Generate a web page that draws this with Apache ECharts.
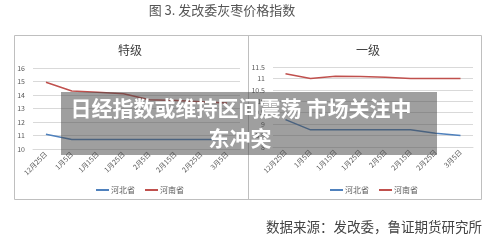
<!DOCTYPE html>
<html>
<head>
<meta charset="utf-8">
<script src="https://cdn.jsdelivr.net/npm/echarts@6/dist/echarts.min.js"></script>
<style>
  html, body { margin: 0; padding: 0; background: #fff; }
  #chart { width: 500px; height: 247px; }
</style>
</head>
<body>
<div id="chart"></div>
<script>
// 横轴日期
const categories = ['12月25日', '1月5日', '1月15日', '1月25日', '2月5日', '2月15日', '2月25日', '3月5日'];
const seriesNames = ['河北省', '河南省'];
// 特级
const topHebei = [11.1, 10.7, 10.7, 10.7, 10.7, 10.7, 10.7, 10.7];
const topHenan = [14.95, 14.3, 14.2, 14.1, 13.65, 13.6, 13.5, 13.4];
// 一级
const firstHebei = [9.2, 8.75, 8.75, 8.75, 8.75, 8.75, 8.6, 8.5];
const firstHenan = [11.2, 11.0, 11.1, 11.08, 11.05, 11.0, 11.0, 11.0];

const FONT = 'Noto Sans CJK SC';
const gridColor = '#d9d9d9';
const labelColor = '#595959';
const blue = '#4f81bd';
const red = '#c0504d';

const chart = echarts.init(document.getElementById('chart'));

function xAxis(gridIndex) {
    return {
        type: 'category',
        gridIndex: gridIndex,
        data: categories,
        axisLine: { lineStyle: { color: gridColor } },
        axisTick: { show: false },
        axisLabel: { rotate: 45, fontSize: 7, color: labelColor, fontFamily: FONT, margin: 4, interval: 0 }
    };
}

function yAxis(gridIndex, min, max, interval) {
    return {
        type: 'value',
        gridIndex: gridIndex,
        min: min,
        max: max,
        interval: interval,
        axisLine: { show: false },
        axisTick: { show: false },
        splitLine: { lineStyle: { color: gridColor } },
        axisLabel: { fontSize: 7, color: labelColor, fontFamily: FONT, margin: 8 }
    };
}

function line(name, data, color, idx) {
    return {
        name: name,
        type: 'line',
        xAxisIndex: idx,
        yAxisIndex: idx,
        data: data,
        symbol: 'none',
        lineStyle: { color: color, width: 1.5 },
        itemStyle: { color: color }
    };
}

function legend(left) {
    return {
        left: left,
        top: 181,
        data: seriesNames,
        icon: 'rect',
        itemWidth: 13,
        itemHeight: 2,
        itemGap: 10,
        textStyle: { fontSize: 8, color: labelColor, fontFamily: FONT, padding: [0, 0, 0, -3] }
    };
}

const option = {
    animation: false,
    grid: [
        { left: 33, top: 68, width: 207, height: 81 },
        { left: 273, top: 67, width: 200, height: 80 }
    ],
    xAxis: [xAxis(0), xAxis(1)],
    yAxis: [yAxis(0, 10, 16, 1), yAxis(1, 8, 11.5, 0.5)],
    legend: [legend(91), legend(325)],
    series: [
        line('河北省', topHebei, blue, 0),
        line('河南省', topHenan, red, 0),
        line('河北省', firstHebei, blue, 1),
        line('河南省', firstHenan, red, 1)
    ],
    graphic: [
        // 外框
        { type: 'rect', shape: { x: 14.5, y: 35.5, width: 467, height: 164 }, style: { fill: 'none', stroke: '#bfbfbf', lineWidth: 1 }, z: 1 },
        { type: 'line', shape: { x1: 248.5, y1: 35.5, x2: 248.5, y2: 199.5 }, style: { stroke: '#bfbfbf', lineWidth: 1 }, z: 1 },
        // 标题
        { type: 'text', x: 222, y: 10, style: { text: '图 3. 发改委灰枣价格指数', fontSize: 13, fill: '#555', fontFamily: FONT, align: 'center', verticalAlign: 'middle' } },
        { type: 'text', x: 130, y: 50, style: { text: '特级', fontSize: 12, fill: '#404040', fontFamily: FONT, align: 'center', verticalAlign: 'middle' } },
        { type: 'text', x: 368, y: 50, style: { text: '一级', fontSize: 12, fill: '#404040', fontFamily: FONT, align: 'center', verticalAlign: 'middle' } },
        // 来源
        { type: 'text', x: 482, y: 227, style: { text: '数据来源：发改委，鲁证期货研究所', fontSize: 13.5, fill: '#444', fontFamily: FONT, align: 'right', verticalAlign: 'middle' } },
        // 遮罩标题
        { type: 'rect', shape: { x: 61, y: 92, width: 376, height: 63 }, style: { fill: 'rgba(70,70,70,0.52)' }, z: 100 },
        { type: 'text', x: 241, y: 108, z: 101, style: { text: '日经指数或维持区间震荡 市场关注中', fontSize: 21, fontWeight: 'bold', fill: '#fff', fontFamily: FONT, align: 'center', verticalAlign: 'middle' } },
        { type: 'text', x: 240, y: 138, z: 101, style: { text: '东冲突', fontSize: 21, fontWeight: 'bold', fill: '#fff', fontFamily: FONT, align: 'center', verticalAlign: 'middle' } }
    ]
};

chart.setOption(option);
</script>
</body>
</html>
